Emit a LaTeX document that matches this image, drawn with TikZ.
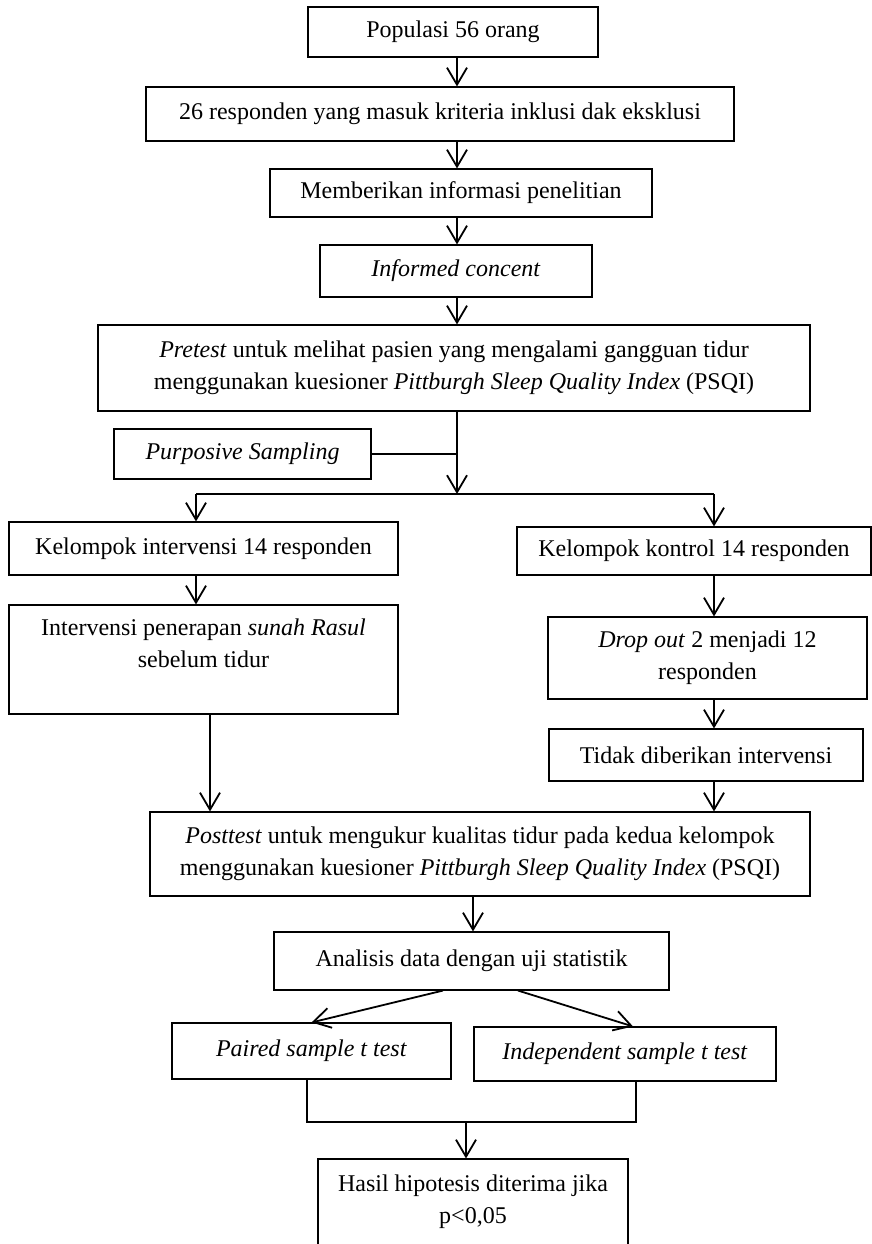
\documentclass[tikz,border=0pt]{standalone}
\usepackage{fontspec}
\setmainfont{Liberation Serif}
\usetikzlibrary{arrows.meta,calc}
\begin{document}
\begin{tikzpicture}[x=1pt,y=-1pt,
  box/.style={draw, line width=1.1pt, inner sep=0pt, align=center, font=\fontsize{24}{32}\selectfont},
  conn/.style={line width=1.8pt},
  arr/.style={conn, -{Straight Barb[length=17pt,width=20pt,line width=1.8pt]}}]
\useasboundingbox (0,0) rectangle (871,1244);
\node[box, minimum width=290pt, minimum height=50pt] (pop) at (453,32) {Populasi 56 orang};
\node[box, minimum width=588pt, minimum height=54pt] (resp) at (440,114) {26 responden yang masuk kriteria inklusi dak eksklusi};
\node[box, minimum width=382pt, minimum height=48pt] (info) at (461,193) {Memberikan informasi penelitian};
\node[box, minimum width=272pt, minimum height=52pt] (ic) at (456,271) {\textit{Informed concent}};
\node[box, minimum width=712pt, minimum height=86pt] (pre) at (454,368) {\textit{Pretest} untuk melihat pasien yang mengalami gangguan tidur\\menggunakan kuesioner \textit{Pittburgh Sleep Quality Index} (PSQI)};
\node[box, minimum width=257pt, minimum height=50pt] (purp) at (242.5,454) {\textit{Purposive Sampling}};
\node[box, minimum width=389pt, minimum height=53pt] (ki) at (203.5,548.5) {Kelompok intervensi 14 responden};
\node[box, minimum width=354pt, minimum height=48pt] (kk) at (694,551) {Kelompok kontrol 14 responden};
\node[box, minimum width=389pt, minimum height=109pt] (ip) at (203.5,659.5) {Intervensi penerapan \textit{sunah Rasul}\\sebelum tidur\\\mbox{}};
\node[box, minimum width=319pt, minimum height=82pt] (do) at (707.5,658) {\textit{Drop out} 2 menjadi 12\\responden};
\node[box, minimum width=314pt, minimum height=52pt] (tdk) at (706,755) {Tidak diberikan intervensi};
\node[box, minimum width=660pt, minimum height=84pt] (post) at (480,854) {\textit{Posttest} untuk mengukur kualitas tidur pada kedua kelompok\\menggunakan kuesioner \textit{Pittburgh Sleep Quality Index} (PSQI)};
\node[box, minimum width=395pt, minimum height=58pt] (ana) at (471.5,961) {Analisis data dengan uji statistik};
\node[box, minimum width=279pt, minimum height=56pt] (pst) at (311.5,1051) {\textit{Paired sample t test}};
\node[box, minimum width=302pt, minimum height=54pt] (ist) at (625,1054) {\textit{Independent sample t test}};
\node[box, minimum width=310pt, minimum height=86pt] (has) at (473,1202) {Hasil hipotesis diterima jika\\p<0,05};
% coordinates
\coordinate (cx) at (457,0);
\coordinate (ax) at (473,0);
\coordinate (j) at (457,494);
\coordinate (jl) at (196,494);
\coordinate (jr) at (714,494);
\coordinate (ipx) at (210,0);
\coordinate (m) at (466,1122);
% connectors
\draw[arr] (cx |- pop.south) -- (cx |- resp.north);
\draw[arr] (cx |- resp.south) -- (cx |- info.north);
\draw[arr] (cx |- info.south) -- (cx |- ic.north);
\draw[arr] (cx |- ic.south) -- (cx |- pre.north);
\draw[arr] (cx |- pre.south) -- (j);
\draw[conn] (purp.east) -- (cx |- purp.east);
\draw[conn] (jl) -- (jr);
\draw[arr] (jl) -- (jl |- ki.north);
\draw[arr] (jr) -- (jr |- kk.north);
\draw[arr] (jl |- ki.south) -- (jl |- ip.north);
\draw[arr] (jr |- kk.south) -- (jr |- do.north);
\draw[arr] (jr |- do.south) -- (jr |- tdk.north);
\draw[arr] (jr |- tdk.south) -- (jr |- post.north);
\draw[arr] (ipx |- ip.south) -- (ipx |- post.north);
\draw[arr] (ax |- post.south) -- (ax |- ana.north);
\draw[arr] ([xshift=-28.5pt]ana.south) -- (pst.north);
\draw[arr] ([xshift=46.5pt]ana.south) -- ([xshift=8pt]ist.north);
\draw[conn] ([xshift=-4.5pt]pst.south) |- (m) -| ([xshift=11pt]ist.south);
\draw[arr] (m) -- (m |- has.north);
\end{tikzpicture}
\end{document}
